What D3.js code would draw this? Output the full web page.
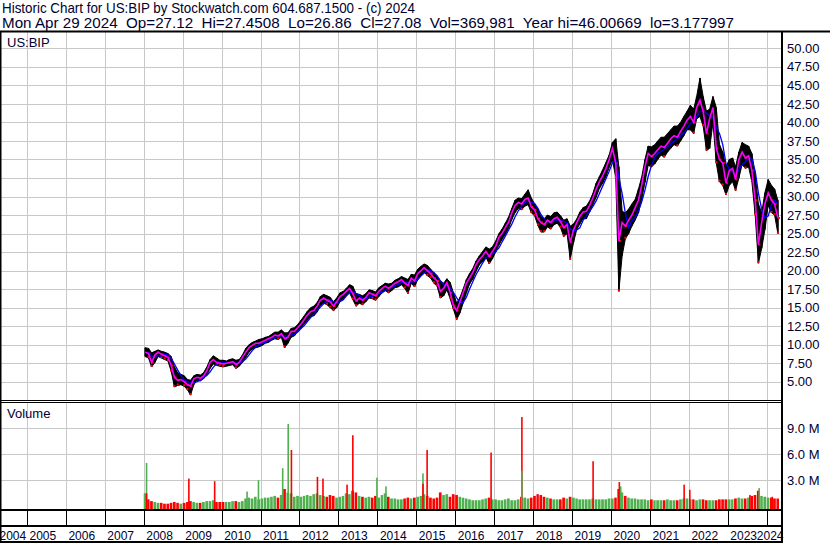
<!DOCTYPE html>
<html>
<head>
<meta charset="utf-8">
<script src="https://cdn.jsdelivr.net/npm/d3@7"></script>
<style>
  body { margin: 0; background: #fff; }
  text { font-family: Arial, "Liberation Sans", sans-serif; fill: #000030; }
</style>
</head>
<body>
<div id="chart"></div>
<script>
// monthly bars, Jan 2008 .. Apr 2024
const firstMonth = new Date(2008, 0, 1)
const lastMonth = new Date(2024, 4, 1)

const closes = [
  9.0, 8.8, 7.6, 8.6, 9.0, 8.7, 8.5, 8.3, 7.2, 5.6, 5.2, 5.3,          // 2008
  5.0, 4.6, 4.4, 5.4, 5.6, 5.5, 5.8, 6.5, 7.6, 8.0, 7.6, 7.5,          // 2009
  7.4, 7.5, 7.6, 7.7, 7.3, 7.6, 8.3, 9.0, 9.6, 9.9, 10.2, 10.2,        // 2010
  10.4, 10.6, 10.8, 11.0, 11.3, 11.2, 11.5, 10.8, 11.0, 11.8, 11.8, 12.3, // 2011
  12.8, 13.4, 14.0, 14.5, 14.6, 15.2, 16.0, 16.3, 16.0, 15.8, 15.2, 15.8, // 2012
  16.5, 16.8, 17.2, 17.6, 16.9, 15.9, 16.3, 16.0, 16.4, 17.0, 16.8, 16.6, // 2013
  17.2, 17.6, 17.9, 17.6, 17.9, 18.3, 18.5, 18.8, 18.3, 18.0, 19.0, 18.6, // 2014
  19.6, 20.0, 20.4, 20.0, 19.6, 19.0, 18.6, 17.2, 17.6, 18.4, 17.0, 15.3, // 2015
  14.6, 15.8, 17.0, 18.3, 19.0, 19.8, 20.8, 21.5, 22.0, 22.6, 21.9, 22.6, // 2016
  23.3, 24.5, 25.0, 25.8, 26.5, 27.8, 28.8, 29.2, 29.0, 29.6, 29.8, 28.6, // 2017
  28.2, 27.0, 26.5, 26.2, 26.8, 26.5, 27.0, 27.2, 26.6, 25.8, 26.2, 23.8, // 2018
  25.5, 26.5, 27.3, 27.9, 28.0, 28.8, 29.8, 31.0, 32.0, 32.8, 33.8, 35.0, // 2019
  36.5, 34.5, 24.0, 26.5, 26.0, 26.8, 27.5, 28.5, 29.5, 31.5, 34.0, 35.8, // 2020
  35.4, 35.8, 36.3, 36.8, 36.6, 37.2, 37.8, 38.2, 38.0, 38.8, 39.5, 40.3, // 2021
  40.8, 40.0, 42.0, 43.0, 41.5, 38.5, 40.5, 42.0, 36.5, 35.0, 34.5, 31.8, // 2022
  33.5, 33.8, 32.3, 35.0, 36.0, 35.2, 35.5, 33.5, 29.5, 23.5, 26.5, 29.0, // 2023
  30.5, 29.5, 29.0, 27.1                                                 // 2024
]

const highs = [
  9.6, 9.5, 8.9, 9.1, 9.3, 9.1, 9.0, 8.8, 8.4, 7.0, 6.2, 6.0,
  5.8, 5.3, 5.2, 5.8, 6.0, 5.9, 6.2, 7.0, 8.0, 8.5, 8.2, 7.9,
  7.9, 7.8, 8.0, 8.1, 7.9, 8.0, 8.6, 9.5, 10.0, 10.3, 10.5, 10.7,
  10.8, 11.0, 11.1, 11.4, 11.7, 11.7, 12.0, 11.6, 11.6, 12.2, 12.3, 12.7,
  13.3, 13.9, 14.5, 15.0, 15.2, 15.7, 16.5, 16.8, 16.6, 16.4, 15.8, 16.3,
  17.0, 17.2, 17.6, 18.1, 17.9, 16.9, 16.8, 16.6, 16.9, 17.4, 17.3, 17.1,
  17.7, 18.0, 18.3, 18.2, 18.3, 18.7, 18.9, 19.2, 19.0, 18.8, 19.5, 19.4,
  20.2, 20.6, 20.9, 20.7, 20.2, 19.7, 19.3, 18.6, 18.3, 18.9, 18.4, 17.0,
  15.6, 16.4, 17.5, 18.8, 19.6, 20.3, 21.3, 22.0, 22.6, 23.2, 22.9, 23.2,
  24.0, 25.0, 25.6, 26.4, 27.2, 28.4, 29.5, 29.8, 29.7, 30.3, 30.9, 29.8,
  29.0, 28.3, 27.3, 27.0, 27.5, 27.3, 27.8, 27.9, 27.4, 26.8, 27.0, 26.0,
  26.3, 27.0, 27.9, 28.5, 28.7, 29.4, 30.4, 31.8, 32.7, 33.6, 34.6, 35.6,
  37.3, 37.8, 34.0, 28.0, 27.8, 28.3, 29.0, 29.6, 31.0, 32.6, 35.0, 36.8,
  36.7, 37.0, 37.5, 38.0, 38.0, 38.5, 39.0, 39.5, 39.5, 40.0, 40.8, 41.5,
  42.3, 41.8, 43.5, 46.0, 43.5, 41.5, 41.8, 43.5, 42.0, 37.0, 36.0, 34.0,
  35.0, 35.2, 34.0, 36.0, 37.3, 37.0, 36.8, 35.8, 33.0, 29.0, 27.8, 30.5,
  32.3, 31.5, 31.0, 29.5
]

const lows = [
  8.4, 8.2, 7.0, 7.6, 8.4, 8.2, 8.0, 7.8, 6.4, 4.3, 4.5, 4.6,
  4.4, 3.9, 3.2, 4.6, 5.2, 5.1, 5.4, 5.9, 6.8, 7.4, 7.2, 7.1,
  7.0, 7.1, 7.2, 7.3, 6.8, 7.1, 7.6, 8.3, 9.0, 9.4, 9.6, 9.7,
  9.9, 10.2, 10.3, 10.6, 10.8, 10.7, 11.0, 9.6, 10.2, 11.0, 11.2, 11.8,
  12.2, 12.8, 13.3, 13.8, 13.9, 14.4, 15.3, 15.6, 15.4, 15.0, 14.6, 15.0,
  15.8, 16.2, 16.6, 17.0, 16.1, 15.2, 15.6, 15.4, 15.8, 16.3, 16.2, 16.0,
  16.5, 17.0, 17.3, 17.0, 17.3, 17.7, 17.8, 18.1, 17.6, 16.9, 18.3, 17.8,
  18.8, 19.3, 19.8, 19.3, 19.0, 18.3, 17.9, 16.3, 16.6, 17.4, 16.2, 14.8,
  13.4, 14.3, 15.6, 17.0, 18.2, 18.9, 19.9, 20.8, 21.2, 21.8, 20.9, 21.6,
  22.5, 23.5, 24.2, 24.9, 25.7, 26.9, 27.8, 28.4, 28.2, 28.7, 28.9, 27.8,
  27.4, 26.1, 25.2, 25.2, 25.9, 25.6, 26.2, 26.4, 25.8, 24.6, 25.0, 21.5,
  23.8, 25.6, 26.3, 27.0, 27.0, 27.9, 28.9, 29.9, 31.1, 31.8, 32.7, 33.9,
  35.0, 32.5, 17.2, 22.0, 24.3, 25.0, 26.0, 26.8, 27.8, 29.6, 31.9, 34.2,
  34.0, 34.4, 35.0, 35.6, 35.3, 36.0, 36.5, 37.0, 36.8, 37.5, 38.2, 39.0,
  39.0, 38.5, 40.5, 40.8, 39.5, 36.2, 36.5, 40.0, 34.5, 32.0, 31.5, 30.2,
  31.5, 32.0, 30.8, 32.5, 34.3, 33.8, 34.0, 32.0, 27.5, 21.0, 23.0, 25.5,
  28.8, 27.8, 27.5, 25.0
]

// volume in millions, monthly typical level
const volumes = [
  1.5, 0.8, 0.6, 0.5, 0.4, 0.4, 0.3, 0.3, 0.4, 0.5, 0.4, 0.3,
  0.4, 0.5, 0.6, 0.5, 0.4, 0.4, 0.5, 0.6, 0.6, 0.7, 0.5, 0.5,
  0.5, 0.5, 0.5, 0.6, 0.6, 0.5, 0.6, 0.9, 1.0, 0.9, 1.1, 0.8,
  0.9, 1.0, 1.0, 1.1, 1.2, 1.0, 1.3, 2.0, 1.6, 1.5, 1.1, 1.2,
  1.1, 1.2, 1.3, 1.2, 1.4, 1.5, 1.3, 1.2, 1.1, 1.3, 1.2, 1.0,
  1.1, 1.2, 1.5, 1.4, 1.8, 1.6, 1.2, 1.1, 1.0, 1.1, 1.0, 1.2,
  1.0, 1.3, 1.5, 1.1, 0.9, 0.9, 0.8, 0.8, 0.9, 1.0, 0.9, 1.0,
  1.1, 1.2, 1.4, 1.2, 1.0, 0.9, 1.0, 1.6, 1.3, 1.4, 1.1, 1.4,
  1.3, 1.1, 1.0, 0.9, 0.8, 0.7, 0.7, 0.7, 0.8, 0.9, 1.0, 0.8,
  0.8, 0.7, 0.7, 0.8, 0.9, 0.7, 0.7, 0.8, 1.1, 1.0, 0.9, 1.0,
  1.2, 1.4, 1.3, 1.1, 1.0, 0.9, 0.8, 0.8, 0.8, 1.0, 0.9, 1.1,
  1.0, 0.9, 0.8, 0.8, 0.8, 0.8, 0.9, 0.8, 0.8, 0.8, 0.8, 0.9,
  0.9, 1.0, 2.0, 1.6, 1.2, 1.0, 0.9, 0.9, 0.8, 0.8, 0.8, 0.7,
  0.8, 0.7, 0.7, 0.7, 0.7, 0.8, 0.7, 0.7, 0.7, 0.8, 0.9, 0.9,
  0.8, 0.8, 0.7, 0.8, 0.8, 0.7, 0.7, 0.7, 0.7, 0.8, 0.8, 0.8,
  0.8, 0.8, 0.9, 1.0, 0.9, 0.9, 1.0, 1.2, 1.3, 1.8, 1.2, 1.1,
  1.0, 1.0, 0.9, 0.9
]

// single-day volume spikes (millions)
const spikeDates = ['2008-01-20', '2008-01-20', '2009-02-20', '2009-10-20', '2010-08-20', '2010-12-05',
  '2011-07-20', '2011-09-10', '2011-10-10', '2012-06-10', '2012-08-01', '2013-03-15', '2013-05-08',
  '2013-12-20', '2014-03-15', '2015-02-25', '2015-02-25', '2015-04-05', '2016-11-25', '2017-09-10',
  '2017-09-10', '2019-07-10', '2020-03-12', '2020-03-25', '2021-11-10', '2022-01-02', '2023-07-20',
  '2023-10-15', '2024-02-15']
const spikeVols = [5.0, 1.5, 3.2, 2.9, 1.7, 3.0,
  4.4, 9.5, 6.5, 3.4, 3.2, 2.5, 8.2,
  3.3, 2.3, 3.8, 2.6, 6.5, 6.2, 10.3,
  4.1, 5.2, 2.8, 2.3, 2.5, 1.9, 1.3,
  2.1, 1.1]
const spikeUp = [1, 0, 0, 0, 1, 1,
  1, 1, 0, 0, 0, 0, 0,
  1, 1, 1, 0, 0, 0, 0,
  1, 0, 0, 1, 0, 0, 0,
  1, 0]

const priceTicks = d3.range(2.5, 50.01, 2.5)
const priceLabels = d3.range(5, 50.01, 2.5)
const volumeTicks = [3, 6, 9]
const years = d3.range(2004, 2025)

const headerLine1 = 'Historic Chart for US:BIP by Stockwatch.com 604.687.1500 - (c) 2024'
const headerLine2 = 'Mon Apr 29 2024  Op=27.12  Hi=27.4508  Lo=26.86  Cl=27.08  Vol=369,981  Year hi=46.00669  lo=3.177997'

const W = 830, H = 543
const PLOT_L = 1, PLOT_R = 782
const PRICE_TOP = 32, PRICE_BOT = 400
const VOL_TOP = 402, VOL_BOT = 510
const YEAR_ROW = 526, BOTTOM = 542
const GRID = '#c8c8c8'
const UP = '#4fb04f', DOWN = '#ff0000'

const svg = d3.select('#chart').append('svg')
  .attr('width', W)
  .attr('height', H)

const months = d3.timeMonth.range(firstMonth, lastMonth)
const bars = months.map((m, i) => ({
  date: m,
  mid: d3.timeDay.offset(m, 14),
  hi: highs[i], lo: lows[i], cl: closes[i],
  vol: volumes[i],
  up: i == 0 || closes[i] >= closes[i - 1]
}))

// blue line: trailing 4 month average of closes
bars.forEach(function (d, i) {
  const win = closes.slice(Math.max(0, i - 3), i + 1)
  d.ma = d3.mean(win)
})

const xscale = d3.scaleTime()
  .domain([new Date(2005, 0, 1), new Date(2024, 0, 1)])
  .range([27, 766.7])
const yscale = d3.scaleLinear().domain([0, 50]).range([418.8, 48.3])
const vscale = d3.scaleLinear().domain([0, 12]).range([506.3, 402.3])

const defs = svg.append('defs')
defs.append('clipPath').attr('id', 'clip-price')
  .append('rect').attr('x', PLOT_L).attr('y', PRICE_TOP).attr('width', PLOT_R - PLOT_L - 1).attr('height', PRICE_BOT - PRICE_TOP)
defs.append('clipPath').attr('id', 'clip-vol')
  .append('rect').attr('x', PLOT_L).attr('y', VOL_TOP).attr('width', PLOT_R - PLOT_L - 1).attr('height', VOL_BOT - VOL_TOP)

// header
svg.append('text')
  .attr('x', 2).attr('y', 13)
  .attr('textLength', 413).attr('lengthAdjust', 'spacingAndGlyphs')
  .style('font-size', '15px')
  .text(headerLine1)
svg.append('text')
  .attr('x', 2).attr('y', 27.5)
  .attr('xml:space', 'preserve').style('white-space', 'pre')
  .attr('textLength', 732).attr('lengthAdjust', 'spacingAndGlyphs')
  .style('font-size', '15px')
  .text(headerLine2)

// grids
const gridYears = years.slice(1).map(y => new Date(y, 0, 1))
function styleGrid(g) {
  g.select('.domain').remove()
  g.selectAll('line').attr('stroke', GRID).attr('shape-rendering', 'crispEdges')
}
svg.append('g')
  .attr('transform', 'translate(0,' + PRICE_BOT + ')')
  .call(d3.axisBottom(xscale).tickValues(gridYears).tickSize(-(PRICE_BOT - PRICE_TOP)).tickFormat(''))
  .call(styleGrid)
svg.append('g')
  .attr('transform', 'translate(0,' + VOL_BOT + ')')
  .call(d3.axisBottom(xscale).tickValues(gridYears).tickSize(-(VOL_BOT - VOL_TOP)).tickFormat(''))
  .call(styleGrid)
svg.append('g')
  .attr('transform', 'translate(' + PLOT_L + ',0)')
  .call(d3.axisLeft(yscale).tickValues(priceTicks).tickSize(-(PLOT_R - PLOT_L)).tickFormat(''))
  .call(styleGrid)
svg.append('g')
  .attr('transform', 'translate(' + PLOT_L + ',0)')
  .call(d3.axisLeft(vscale).tickValues(volumeTicks).tickSize(-(PLOT_R - PLOT_L)).tickFormat(''))
  .call(styleGrid)

// price range band (monthly high / low)
const price = svg.append('g').attr('clip-path', 'url(#clip-price)')
price.append('path')
  .datum(bars)
  .attr('fill', '#000')
  .attr('stroke', '#000')
  .attr('stroke-width', 1)
  .attr('d', d3.area().x(d => xscale(d.mid)).y0(d => yscale(d.lo)).y1(d => yscale(d.hi)))

price.selectAll('line.bar')
  .data(bars)
  .enter().append('line')
  .attr('class', 'bar')
  .attr('x1', d => xscale(d.mid))
  .attr('x2', d => xscale(d.mid))
  .attr('y1', d => yscale(d.hi))
  .attr('y2', d => yscale(d.lo))
  .style('stroke', '#000')
  .style('stroke-width', 1.5)

// red close ticks on down months
price.selectAll('rect.down')
  .data(bars.filter(d => !d.up))
  .enter().append('rect')
  .attr('class', 'down')
  .attr('x', d => xscale(d.mid))
  .attr('y', d => yscale(d.cl) - 1)
  .attr('width', 2)
  .attr('height', 2)
  .style('fill', DOWN)

price.selectAll('rect.lowtick')
  .data(bars.filter(d => !d.up))
  .enter().append('rect')
  .attr('class', 'lowtick')
  .attr('x', d => xscale(d.mid) - 1)
  .attr('y', d => yscale(d.lo) - 2)
  .attr('width', 2)
  .attr('height', 2)
  .style('fill', DOWN)

price.append('path')
  .datum(bars)
  .attr('fill', 'none')
  .attr('stroke', '#0000ff')
  .attr('stroke-width', 1.3)
  .attr('d', d3.line().x(d => xscale(d.mid)).y(d => yscale(d.ma)))

price.append('path')
  .datum(bars)
  .attr('fill', 'none')
  .attr('stroke', '#ff00ff')
  .attr('stroke-width', 1.6)
  .attr('d', d3.line().x(d => xscale(d.mid)).y(d => yscale(d.cl)))

// volume bars
const vol = svg.append('g').attr('clip-path', 'url(#clip-vol)')
vol.selectAll('rect.vol')
  .data(bars)
  .enter().append('rect')
  .attr('class', 'vol')
  .attr('x', d => xscale(d.date))
  .attr('width', d => xscale(d3.timeMonth.offset(d.date, 1)) - xscale(d.date) - 0.6)
  .attr('y', d => vscale(d.vol))
  .attr('height', d => VOL_BOT - vscale(d.vol))
  .style('fill', d => d.up ? UP : DOWN)

const spikes = spikeDates.map((s, i) => ({ date: d3.timeParse('%Y-%m-%d')(s), vol: spikeVols[i], up: spikeUp[i] == 1 }))
vol.selectAll('rect.spike')
  .data(spikes)
  .enter().append('rect')
  .attr('class', 'spike')
  .attr('x', d => xscale(d.date))
  .attr('width', 1.6)
  .attr('y', d => vscale(d.vol))
  .attr('height', d => VOL_BOT - vscale(d.vol))
  .style('fill', d => d.up ? UP : DOWN)

// right axes
const priceAxis = svg.append('g')
  .attr('transform', 'translate(' + PLOT_R + ',0)')
  .call(d3.axisRight(yscale).tickValues(priceLabels).tickFormat(d3.format('.2f')).tickSize(0).tickPadding(5))
priceAxis.select('.domain').remove()
priceAxis.selectAll('text').style('font-size', '13px').style('font-family', 'Arial, "Liberation Sans", sans-serif').attr('fill', '#000030')

const volAxis = svg.append('g')
  .attr('transform', 'translate(' + PLOT_R + ',0)')
  .call(d3.axisRight(vscale).tickValues(volumeTicks).tickFormat(d => d.toFixed(1) + ' M').tickSize(0).tickPadding(5))
volAxis.select('.domain').remove()
volAxis.selectAll('text').style('font-size', '13px').style('font-family', 'Arial, "Liberation Sans", sans-serif').attr('fill', '#000030')

// year row
const yearAxis = svg.append('g')
  .attr('transform', 'translate(0,' + VOL_BOT + ')')
  .call(d3.axisBottom(xscale).tickValues(years.map(y => new Date(y, 0, 1))).tickSize(YEAR_ROW - VOL_BOT).tickFormat(d3.timeFormat('%Y')))
yearAxis.select('.domain').remove()
yearAxis.selectAll('line').attr('stroke', '#000').attr('shape-rendering', 'crispEdges')
yearAxis.selectAll('text')
  .style('font-size', '12px')
  .style('font-family', 'Arial, "Liberation Sans", sans-serif')
  .attr('fill', '#000030')
  .attr('text-anchor', 'start')
  .attr('dy', null)
  .attr('y', BOTTOM - 2 - VOL_BOT)
  .attr('x', function (d) {
    const pos = xscale(d)
    const w = this.getComputedTextLength()
    let start = Math.min(pos + 2, PLOT_R + 1 - w)
    start = Math.max(start, -1)
    return start - pos
  })

// panel labels
svg.append('text').attr('x', 7).attr('y', 46.5).style('font-size', '13px').text('US:BIP')
svg.append('text').attr('x', 7).attr('y', 417.5).style('font-size', '13px').text('Volume')

// frame
function addLine(x1, y1, x2, y2, w) {
  svg.append('line')
    .attr('x1', x1).attr('y1', y1)
    .attr('x2', x2).attr('y2', y2)
    .style('stroke', '#000')
    .style('stroke-width', w)
}
addLine(0, PRICE_TOP - 0.5, W, PRICE_TOP - 0.5, 2)
addLine(PLOT_L - 0.5, PRICE_TOP, PLOT_L - 0.5, H, 2)
addLine(PLOT_R, PRICE_TOP, PLOT_R, H, 2)
addLine(0, PRICE_BOT + 0.5, PLOT_R, PRICE_BOT + 0.5, 1)
addLine(0, VOL_TOP + 0.5, PLOT_R, VOL_TOP + 0.5, 1)
addLine(0, VOL_BOT, PLOT_R, VOL_BOT, 2)
addLine(0, YEAR_ROW, PLOT_R, YEAR_ROW, 2)
addLine(0, BOTTOM, PLOT_R, BOTTOM, 2)
</script>
</body>
</html>
